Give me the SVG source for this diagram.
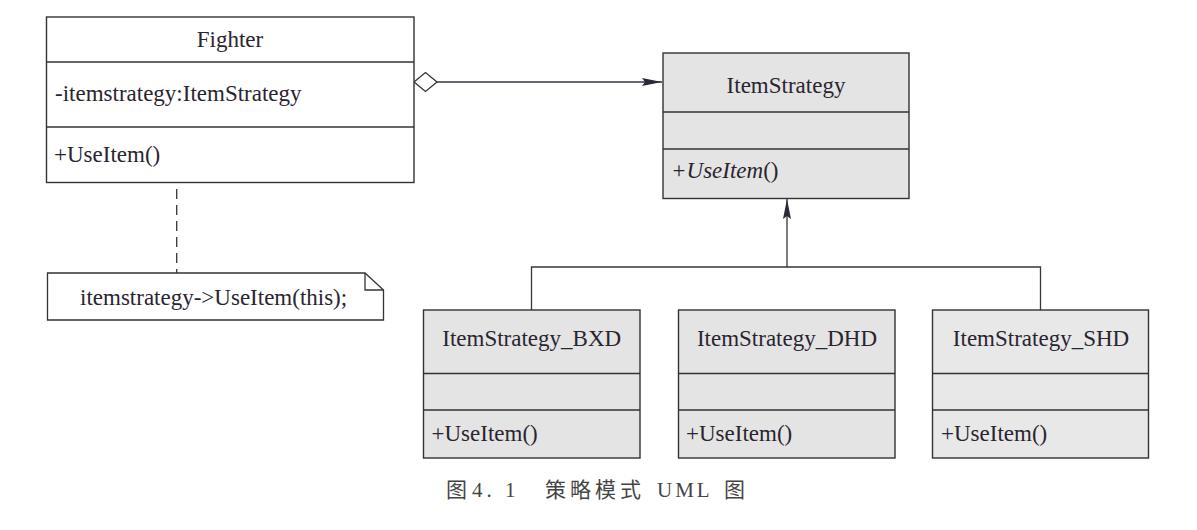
<svg xmlns="http://www.w3.org/2000/svg" width="1197" height="530" viewBox="0 0 1197 530">
<defs>
<style>
.box{stroke:#333;stroke-width:1.4;}
.w{fill:#fff;}
.g{fill:#e4e4e4;}
.div{stroke:#333;stroke-width:1.4;}
.t{font-family:"Liberation Serif","Times New Roman",serif;font-size:23px;fill:#2a2430;}
.c{text-anchor:middle;}
.ln{stroke:#3a3440;stroke-width:1.3;fill:none;}
.cap{font-family:"Liberation Serif","Noto Sans CJK SC",serif;font-size:21px;fill:#444;}
</style>
<marker id="tri" viewBox="0 0 20 8" refX="20" refY="4" markerWidth="20" markerHeight="8" markerUnits="userSpaceOnUse" orient="auto">
<path d="M0,0 L20,4 L0,8 L3,4 Z" fill="#2e2838"/>
</marker>
</defs>
<rect width="1197" height="530" fill="#fff"/>

<g id="connectors">
<line class="ln" x1="437" y1="82" x2="662" y2="82" marker-end="url(#tri)"/>
<path d="M414,82 L425.5,72.5 L437,82 L425.5,91.5 Z" fill="#fff" stroke="#333" stroke-width="1.3"/>
<line class="ln" x1="787" y1="267" x2="787" y2="199" marker-end="url(#tri)"/>
<polyline class="ln" points="531.5,310 531.5,267 1040.5,267 1040.5,310"/>
<line class="ln" x1="176.7" y1="157" x2="176.7" y2="273" stroke-dasharray="10,6"/>
</g>

<g id="fighter">
<rect class="box w" x="46.5" y="17" width="367.5" height="165.5"/>
<line class="div" x1="46.5" y1="62" x2="414" y2="62"/>
<line class="div" x1="46.5" y1="127" x2="414" y2="127"/>
<text class="t c" x="230" y="47">Fighter</text>
<text class="t" x="55" y="101">-itemstrategy:ItemStrategy</text>
<text class="t" x="54" y="162">+UseItem()</text>
</g>

<g id="note">
<path d="M47.5,273 L365,273 L383.5,290 L383.5,320 L47.5,320 Z" fill="#fff" stroke="#333" stroke-width="1.3"/>
<path d="M365,273 L365,290 L383.5,290" fill="none" stroke="#333" stroke-width="1.3"/>
<text class="t" x="80" y="305">itemstrategy-&gt;UseItem(this);</text>
</g>

<g id="itemstrategy">
<rect class="box g" x="663" y="53" width="246" height="145.5"/>
<line class="div" x1="663" y1="112" x2="909" y2="112"/>
<line class="div" x1="663" y1="149" x2="909" y2="149"/>
<text class="t c" x="786" y="93">ItemStrategy</text>
<text class="t" x="671" y="178"><tspan font-style="italic">+UseItem</tspan>()</text>
</g>

<g id="bxd">
<rect class="box g" x="423.5" y="310" width="216.5" height="148"/>
<line class="div" x1="423.5" y1="373.5" x2="640" y2="373.5"/>
<line class="div" x1="423.5" y1="410" x2="640" y2="410"/>
<text class="t c" x="531.7" y="346">ItemStrategy_BXD</text>
<text class="t" x="431.5" y="441">+UseItem()</text>
</g>

<g id="dhd">
<rect class="box g" x="678.5" y="310" width="216.5" height="148"/>
<line class="div" x1="678.5" y1="373.5" x2="895" y2="373.5"/>
<line class="div" x1="678.5" y1="410" x2="895" y2="410"/>
<text class="t c" x="787" y="346">ItemStrategy_DHD</text>
<text class="t" x="686" y="441">+UseItem()</text>
</g>

<g id="shd">
<rect class="box" x="932.5" y="310" width="216" height="148" fill="#e8e8e8"/>
<line class="div" x1="932.5" y1="373.5" x2="1148.5" y2="373.5"/>
<line class="div" x1="932.5" y1="410" x2="1148.5" y2="410"/>
<text class="t c" x="1041" y="346">ItemStrategy_SHD</text>
<text class="t" x="941" y="441">+UseItem()</text>
</g>

<g id="caption">
<text class="cap" y="497"><tspan x="446">图</tspan><tspan x="472" letter-spacing="4">4. 1</tspan><tspan x="545" letter-spacing="4">策略模式</tspan><tspan x="657" letter-spacing="3">UML</tspan><tspan x="724">图</tspan></text>
</g>
</svg>
